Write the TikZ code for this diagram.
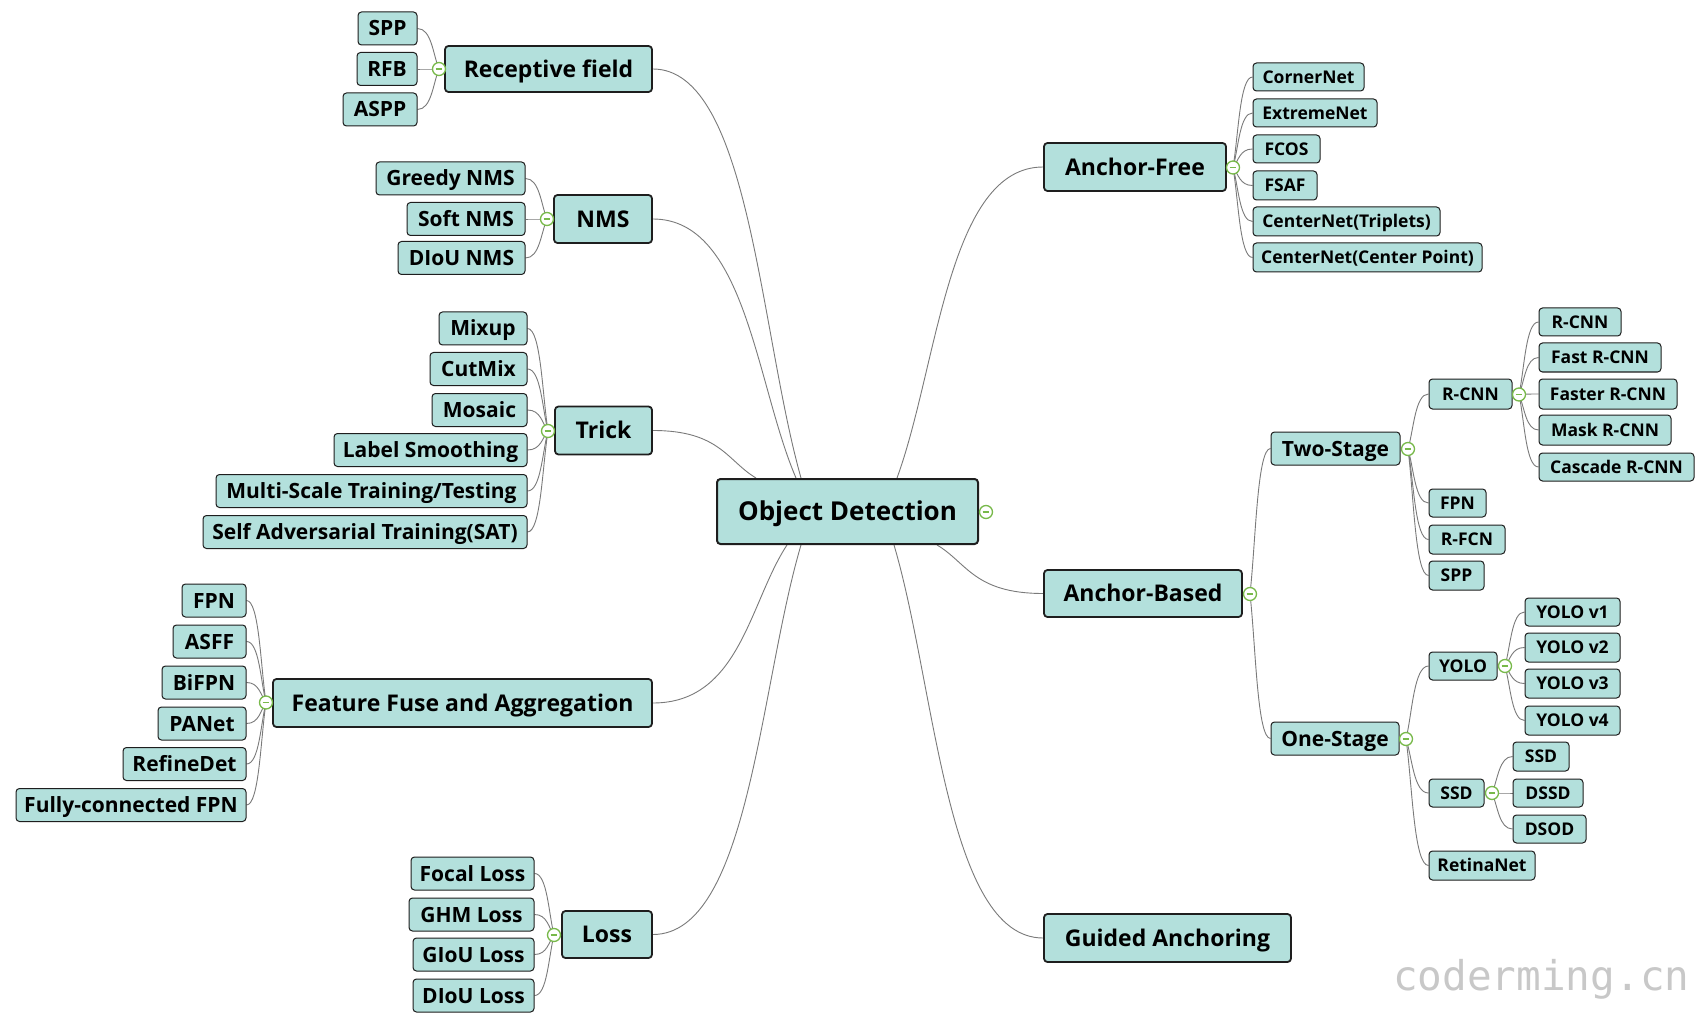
\documentclass[tikz,border=0pt]{standalone}
\usepackage{fontspec}
\setmainfont{Open Sans}
\newfontfamily\wmfont{DejaVu Sans Mono}
\usetikzlibrary{calc}
\pgfdeclarelayer{bg}
\pgfsetlayers{bg,main}
\definecolor{tealfill}{HTML}{B3E0DC}
\definecolor{bordercol}{HTML}{1E1E1E}
\definecolor{conncol}{HTML}{7A7A7A}
\definecolor{btngreen}{HTML}{78B94A}
\definecolor{wmgray}{HTML}{C8C8C8}
\tikzset{
  box/.style={rectangle, rounded corners=3.5pt, fill=tealfill, draw=bordercol, inner sep=0pt, align=center, text depth=0pt},
  rootbox/.style={box, line width=2pt, text height=18.6pt, font=\bfseries\fontsize{26}{30}\selectfont},
  lone/.style={box, line width=1.8pt, text height=16.4pt, font=\bfseries\fontsize{23}{27}\selectfont},
  lleaf/.style={box, line width=1pt, text height=15pt, font=\bfseries\fontsize{21}{25}\selectfont},
  rsmall/.style={box, line width=1pt, text height=12.5pt, font=\bfseries\fontsize{17.5}{21}\selectfont},
  sz/.style 2 args={minimum width=#1pt, minimum height=#2pt},
  conn/.style={draw=conncol, line width=0.9pt},
  cbtn/.style={circle, draw=btngreen, line width=1.3pt, fill=white, minimum size=13pt, inner sep=0pt}
}
\newcommand{\lnk}[2]{\draw[conn] let \p1=(#1), \p2=(#2) in (\p1) .. controls ({\x1+0.65*(\x2-\x1)},{\y1}) and ({\x1+0.72*(\x2-\x1)},{\y1+0.64*(\y2-\y1)}) .. (\p2);}
\newcommand{\btn}[3]{\node[cbtn] (#1) at (#2,#3) {}; \draw[btngreen, line width=1.4pt] ([xshift=-3.4pt]#1.center) -- ([xshift=3.4pt]#1.center);}
\begin{document}
\begin{tikzpicture}[x=1pt,y=-1pt]
\useasboundingbox (0,0) rectangle (1706,1016);

% root
\node[rootbox, sz={261}{65}] (od) at (847.5,511.5) {Object Detection};
\btn{odb}{986}{512}

% Receptive field
\node[lone, sz={207}{46}] (rf) at (548.5,69) {Receptive field};
\btn{rfb}{439}{69}
\node[lleaf, sz={59}{33}] (spp1) at (387.5,28.5) {SPP};
\node[lleaf, sz={60}{33}] (rfb1) at (387,69) {RFB};
\node[lleaf, sz={74}{33}] (aspp) at (380,109.5) {ASPP};

% NMS
\node[lone, sz={98}{48}] (nms) at (603,219) {NMS};
\btn{nmsb}{547}{219}
\node[lleaf, sz={149}{33}] (gnms) at (450.5,178.5) {Greedy NMS};
\node[lleaf, sz={118}{33}] (snms) at (466,219) {Soft NMS};
\node[lleaf, sz={127}{33}] (dnms) at (461.5,258) {DIoU NMS};

% Trick
\node[lone, sz={97}{48}] (trick) at (603.5,430.5) {Trick};
\btn{trb}{548}{431}
\node[lleaf, sz={88}{33}] (mix) at (483,328.5) {Mixup};
\node[lleaf, sz={97}{33}] (cut) at (478.5,369) {CutMix};
\node[lleaf, sz={95}{33}] (mos) at (479.5,410) {Mosaic};
\node[lleaf, sz={193}{33}] (lsm) at (430.5,450) {Label Smoothing};
\node[lleaf, sz={311}{33}] (mst) at (371.5,491) {Multi-Scale Training/Testing};
\node[lleaf, sz={324}{33}] (sat) at (365,532) {Self Adversarial Training(SAT)};

% Feature Fuse
\node[lone, sz={379}{48}] (ffa) at (462.5,703) {Feature Fuse and Aggregation};
\btn{ffb}{266}{702.5}
\node[lleaf, sz={64}{33}] (fpnl) at (214,600.5) {FPN};
\node[lleaf, sz={73}{33}] (asff) at (209.5,641.5) {ASFF};
\node[lleaf, sz={84}{33}] (bifpn) at (204,682.5) {BiFPN};
\node[lleaf, sz={88}{33}] (panet) at (202,723.5) {PANet};
\node[lleaf, sz={123}{33}] (refdet) at (184.5,764) {RefineDet};
\node[lleaf, sz={230}{33}] (fcfpn) at (131,805) {Fully-connected FPN};

% Loss
\node[lone, sz={90}{47}] (loss) at (607,934.5) {Loss};
\btn{lossb}{554}{935}
\node[lleaf, sz={123}{33}] (focal) at (472.5,873.5) {Focal Loss};
\node[lleaf, sz={125}{33}] (ghm) at (471.5,914.5) {GHM Loss};
\node[lleaf, sz={121}{33}] (giou) at (473.5,954.5) {GIoU Loss};
\node[lleaf, sz={121}{33}] (diou) at (473.5,995.5) {DIoU Loss};

% Anchor-Free
\node[lone, sz={182}{48}] (af) at (1135,167) {Anchor-Free};
\btn{afb}{1233}{167.5}
\node[rsmall, sz={111}{28}] (corner) at (1308.5,77) {CornerNet};
\node[rsmall, sz={124}{28}] (extreme) at (1315,113) {ExtremeNet};
\node[rsmall, sz={67}{28}] (fcos) at (1286.5,149) {FCOS};
\node[rsmall, sz={64}{29}] (fsaf) at (1285,185.5) {FSAF};
\node[rsmall, sz={187}{29}] (cnt) at (1346.5,221.5) {CenterNet(Triplets)};
\node[rsmall, sz={229}{29}] (cnc) at (1367.5,257.5) {CenterNet(Center Point)};

% Anchor-Based
\node[lone, sz={198}{47}] (ab) at (1143,593.5) {Anchor-Based};
\btn{abb}{1250}{594}
\node[lleaf, sz={129}{33}] (two) at (1335.5,448.5) {Two-Stage};
\btn{twob}{1408}{449}
\node[rsmall, sz={83}{30}] (rcnn) at (1470.5,394) {R-CNN};
\btn{rcnnb}{1519}{394.5}
\node[rsmall, sz={82}{28}] (rc1) at (1580,322) {R-CNN};
\node[rsmall, sz={122}{29}] (rc2) at (1600,357.5) {Fast R-CNN};
\node[rsmall, sz={138}{30}] (rc3) at (1608,394) {Faster R-CNN};
\node[rsmall, sz={132}{30}] (rc4) at (1605,430) {Mask R-CNN};
\node[rsmall, sz={155}{28}] (rc5) at (1616.5,467) {Cascade R-CNN};
\node[rsmall, sz={57}{28}] (fpnr) at (1457.5,503) {FPN};
\node[rsmall, sz={76}{29}] (rfcn) at (1467,539.5) {R-FCN};
\node[rsmall, sz={55}{29}] (sppr) at (1456.5,575.5) {SPP};

\node[lleaf, sz={128}{33}] (one) at (1335,738.5) {One-Stage};
\btn{oneb}{1406}{739}
\node[rsmall, sz={68}{28}] (yolo) at (1463,666) {YOLO};
\btn{yolob}{1505}{666}
\node[rsmall, sz={95}{28}] (yv1) at (1572.5,612) {YOLO v1};
\node[rsmall, sz={95}{29}] (yv2) at (1572.5,647.5) {YOLO v2};
\node[rsmall, sz={95}{29}] (yv3) at (1572.5,683.5) {YOLO v3};
\node[rsmall, sz={95}{29}] (yv4) at (1572.5,720.5) {YOLO v4};
\node[rsmall, sz={55}{28}] (ssd) at (1456.5,793) {SSD};
\btn{ssdb}{1492}{793}
\node[rsmall, sz={56}{29}] (ssd1) at (1541,756.5) {SSD};
\node[rsmall, sz={70}{28}] (dssd) at (1548,793) {DSSD};
\node[rsmall, sz={73}{28}] (dsod) at (1549.5,829) {DSOD};
\node[rsmall, sz={106}{29}] (retina) at (1482,865.5) {RetinaNet};

% Guided Anchoring
\node[lone, sz={247}{48}] (ga) at (1167.5,938) {Guided Anchoring};

% root attach points
\coordinate (tRF) at ($(od.north west)+(85,0)$);
\coordinate (tNMS) at ($(od.north west)+(80,0)$);
\coordinate (tTR) at ($(od.north west)+(40,0)$);
\coordinate (tAF) at ($(od.north west)+(181,0)$);
\coordinate (bFF) at ($(od.south west)+(71,0)$);
\coordinate (bLO) at ($(od.south west)+(85,0)$);
\coordinate (bGA) at ($(od.south west)+(178,0)$);
\coordinate (bAB) at ($(od.south west)+(221,0)$);

% watermark
\node[anchor=base west, inner sep=0pt, text=wmgray, font=\wmfont\fontsize{41}{41}\selectfont] (wm) at (1393,990) {coderming.cn};

\begin{pgfonlayer}{bg}
\fill[white] (0,0) rectangle (1706,1016);
\lnk{rf.east}{tRF}
\lnk{nms.east}{tNMS}
\lnk{trick.east}{tTR}
\lnk{ffa.east}{bFF}
\lnk{loss.east}{bLO}
\lnk{af.west}{tAF}
\lnk{ab.west}{bAB}
\lnk{ga.west}{bGA}
% left subtrees
\foreach \c in {spp1,rfb1,aspp} {\lnk{\c.east}{rfb}}
\foreach \c in {gnms,snms,dnms} {\lnk{\c.east}{nmsb}}
\foreach \c in {mix,cut,mos,lsm,mst,sat} {\lnk{\c.east}{trb}}
\foreach \c in {fpnl,asff,bifpn,panet,refdet,fcfpn} {\lnk{\c.east}{ffb}}
\foreach \c in {focal,ghm,giou,diou} {\lnk{\c.east}{lossb}}
% right subtrees
\foreach \c in {corner,extreme,fcos,fsaf,cnt,cnc} {\lnk{\c.west}{afb}}
\foreach \c in {two,one} {\lnk{\c.west}{abb}}
\foreach \c in {rcnn,fpnr,rfcn,sppr} {\lnk{\c.west}{twob}}
\foreach \c in {rc1,rc2,rc3,rc4,rc5} {\lnk{\c.west}{rcnnb}}
\foreach \c in {yolo,ssd,retina} {\lnk{\c.west}{oneb}}
\foreach \c in {yv1,yv2,yv3,yv4} {\lnk{\c.west}{yolob}}
\foreach \c in {ssd1,dssd,dsod} {\lnk{\c.west}{ssdb}}
\end{pgfonlayer}
\end{tikzpicture}
\end{document}
